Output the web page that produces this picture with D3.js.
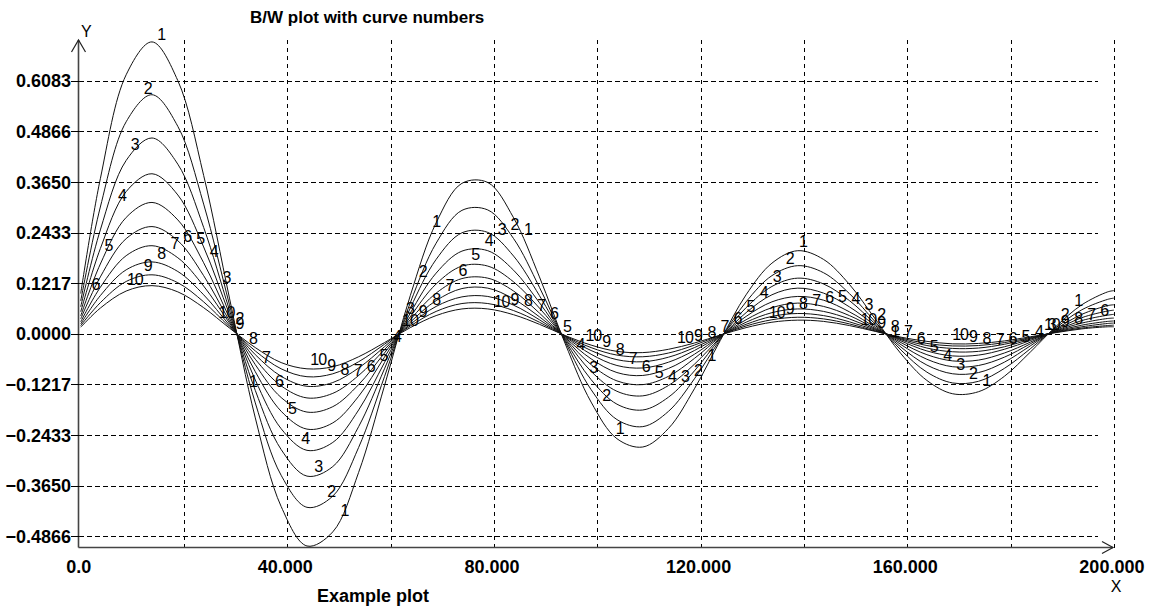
<!DOCTYPE html>
<html>
<head>
<meta charset="utf-8">
<script src="https://cdn.jsdelivr.net/npm/d3@7"></script>
<style>
    html, body { margin: 0; padding: 0; background: #fff; }
    text { font-family: "Liberation Sans", Arial, sans-serif; }
</style>
</head>
<body>
<div id="chart"></div>
<script>
// x positions shared by all curves
const xValues = [0, 3.8, 8.8, 13.8, 18.8, 23.8, 28.8, 33.8, 38.8, 43.8, 48.8, 53.8, 58.8, 63.8, 68.8,
    73.8, 78.8, 83.8, 88.8, 93.8, 98.8, 103.8, 108.8, 113.8, 118.8, 123.8, 128.8, 133.8, 138.8, 143.8,
    148.8, 153.8, 158.8, 163.8, 168.8, 173.8, 178.8, 183.8, 188.8, 193.8, 198.8, 200];

// y values of each numbered curve
const curve1 = [0.097, 0.373, 0.623, 0.702, 0.609, 0.381, 0.086, -0.202, -0.415, -0.510, -0.476, -0.333, -0.125, 0.092, 0.267, 0.362, 0.364, 0.279, 0.137, -0.024, -0.164, -0.252, -0.272, -0.227, -0.132, -0.016, 0.094, 0.170, 0.200, 0.179, 0.119, 0.036, -0.048, -0.112, -0.144, -0.139, -0.102, -0.044, 0.018, 0.070, 0.101, 0.104];
const curve2 = [0.079, 0.305, 0.510, 0.575, 0.499, 0.312, 0.070, -0.166, -0.340, -0.417, -0.390, -0.273, -0.103, 0.075, 0.218, 0.297, 0.298, 0.229, 0.112, -0.019, -0.134, -0.206, -0.223, -0.186, -0.108, -0.013, 0.077, 0.140, 0.164, 0.147, 0.097, 0.029, -0.039, -0.092, -0.118, -0.114, -0.083, -0.036, 0.015, 0.058, 0.083, 0.086];
const curve3 = [0.065, 0.250, 0.417, 0.471, 0.408, 0.256, 0.057, -0.136, -0.278, -0.342, -0.319, -0.223, -0.084, 0.062, 0.179, 0.243, 0.244, 0.187, 0.092, -0.016, -0.110, -0.169, -0.183, -0.152, -0.089, -0.010, 0.063, 0.114, 0.134, 0.120, 0.080, 0.024, -0.032, -0.075, -0.096, -0.093, -0.068, -0.029, 0.012, 0.047, 0.068, 0.070];
const curve4 = [0.053, 0.205, 0.342, 0.385, 0.334, 0.209, 0.047, -0.111, -0.228, -0.280, -0.261, -0.183, -0.069, 0.050, 0.146, 0.199, 0.200, 0.153, 0.075, -0.013, -0.090, -0.138, -0.149, -0.124, -0.073, -0.009, 0.051, 0.094, 0.110, 0.098, 0.065, 0.020, -0.026, -0.061, -0.079, -0.076, -0.056, -0.024, 0.010, 0.039, 0.055, 0.057];
const curve5 = [0.043, 0.168, 0.280, 0.316, 0.274, 0.171, 0.038, -0.091, -0.186, -0.229, -0.214, -0.150, -0.056, 0.041, 0.120, 0.163, 0.163, 0.125, 0.062, -0.011, -0.074, -0.113, -0.122, -0.102, -0.059, -0.007, 0.042, 0.077, 0.090, 0.081, 0.053, 0.016, -0.021, -0.050, -0.065, -0.063, -0.046, -0.020, 0.008, 0.032, 0.045, 0.047];
const curve6 = [0.036, 0.137, 0.229, 0.258, 0.224, 0.140, 0.031, -0.074, -0.153, -0.188, -0.175, -0.122, -0.046, 0.034, 0.098, 0.133, 0.134, 0.103, 0.050, -0.009, -0.060, -0.093, -0.100, -0.083, -0.049, -0.006, 0.034, 0.063, 0.074, 0.066, 0.044, 0.013, -0.017, -0.041, -0.053, -0.051, -0.037, -0.016, 0.007, 0.026, 0.037, 0.038];
const curve7 = [0.029, 0.112, 0.188, 0.212, 0.183, 0.115, 0.026, -0.061, -0.125, -0.154, -0.143, -0.100, -0.038, 0.028, 0.080, 0.109, 0.110, 0.084, 0.041, -0.007, -0.049, -0.076, -0.082, -0.068, -0.040, -0.005, 0.028, 0.051, 0.060, 0.054, 0.036, 0.011, -0.014, -0.034, -0.043, -0.042, -0.031, -0.013, 0.006, 0.021, 0.030, 0.031];
const curve8 = [0.024, 0.092, 0.154, 0.173, 0.150, 0.094, 0.021, -0.050, -0.102, -0.126, -0.117, -0.082, -0.031, 0.023, 0.066, 0.089, 0.090, 0.069, 0.034, -0.006, -0.040, -0.062, -0.067, -0.056, -0.033, -0.004, 0.023, 0.042, 0.049, 0.044, 0.029, 0.009, -0.012, -0.028, -0.035, -0.034, -0.025, -0.011, 0.005, 0.017, 0.025, 0.026];
const curve9 = [0.020, 0.075, 0.126, 0.142, 0.123, 0.077, 0.017, -0.041, -0.084, -0.103, -0.096, -0.067, -0.025, 0.019, 0.054, 0.073, 0.073, 0.056, 0.028, -0.005, -0.033, -0.051, -0.055, -0.046, -0.027, -0.003, 0.019, 0.034, 0.040, 0.036, 0.024, 0.007, -0.010, -0.023, -0.029, -0.028, -0.021, -0.009, 0.004, 0.014, 0.020, 0.021];
const curve10 = [0.016, 0.062, 0.103, 0.116, 0.101, 0.063, 0.014, -0.033, -0.069, -0.084, -0.079, -0.055, -0.021, 0.015, 0.044, 0.060, 0.060, 0.046, 0.023, -0.004, -0.027, -0.042, -0.045, -0.037, -0.022, -0.003, 0.015, 0.028, 0.033, 0.030, 0.020, 0.006, -0.008, -0.018, -0.024, -0.023, -0.017, -0.007, 0.003, 0.012, 0.017, 0.017];

const curveNames = ['1', '2', '3', '4', '5', '6', '7', '8', '9', '10'];

// x of the point each curve number is tied to first, then every labelStep along x
const labelStart = [14.8, 12.2, 9.7, 7.2, 4.6, 2.1, -0.4, 14.8, 12.2, 9.7];
const labelStep = 17.75,
    labelLastX = 199;

// axes
const xDomain = [0, 200];
const yDomain = [-0.5141, 0.7025];
const xTickValues = [0, 40, 80, 120, 160, 200];
const xTickLabels = ['0.0', '40.000', '80.000', '120.000', '160.000', '200.000'];
const xGridValues = [20, 40, 60, 80, 100, 120, 140, 160, 180, 200];
const yTickValues = [-0.4866, -0.3650, -0.2433, -0.1217, 0, 0.1217, 0.2433, 0.3650, 0.4866, 0.6083];

const titleText = 'B/W plot with curve numbers',
    footText = 'Example plot';

class D3CurvePlot {
    containerEl;
    svg;

    constructor(containerEl) {
        this.containerEl = containerEl;
        this.init();
    }

    init() {
        const width = 1151,
            height = 609,
            series = [curve1, curve2, curve3, curve4, curve5, curve6, curve7, curve8, curve9, curve10];

        this.svg = d3.select(this.containerEl)
                    .append('svg')
                    .attr('width', width)
                    .attr('height', height)
                    .style('display', 'block')
                    .style('background', '#fff');

        this.x = d3.scaleLinear().domain(xDomain).range([80.7, 1113.9]);
        this.y = d3.scaleLinear().domain(yDomain).range([547.7, 41.7]);

        this._drawGrid();
        this._drawAxes();
        this._drawCurves(series);
        this._drawTexts();
    }

    // Dashed grid lines
    _drawGrid() {
        const x = this.x, y = this.y,
            g = this.svg.append('g')
                    .attr('stroke', '#000')
                    .attr('stroke-width', 1)
                    .attr('shape-rendering', 'crispEdges');

        g.selectAll('.hgrid')
            .data(yTickValues)
            .enter()
            .append('line')
            .attr('x1', 79)
            .attr('x2', 1098)
            .attr('y1', d => Math.round(y(d)) + 0.5)
            .attr('y2', d => Math.round(y(d)) + 0.5)
            .attr('stroke-dasharray', '5,3');

        g.selectAll('.vgrid')
            .data(xGridValues)
            .enter()
            .append('line')
            .attr('x1', d => Math.round(x(d)) + 0.5)
            .attr('x2', d => Math.round(x(d)) + 0.5)
            .attr('y1', 40)
            .attr('y2', 552)
            .attr('stroke-dasharray', '4,4');
    }

    // Axis lines, arrows, ticks and tick labels
    _drawAxes() {
        const x = this.x, y = this.y,
            x0 = 78.5,
            yAxisY = 547.5,
            g = this.svg.append('g');

        g.append('line')
            .attr('x1', x0).attr('x2', x0)
            .attr('y1', 40).attr('y2', yAxisY)
            .attr('stroke', '#444').attr('stroke-width', 1.6);
        g.append('line')
            .attr('x1', x0).attr('x2', 1113)
            .attr('y1', yAxisY).attr('y2', yAxisY)
            .attr('stroke', '#444').attr('stroke-width', 1.6);

        // arrow heads
        g.append('path')
            .attr('d', `M${x0 - 7},52 L${x0},40 L${x0 + 7},52`)
            .attr('fill', 'none').attr('stroke', '#222').attr('stroke-width', 1.2);
        g.append('path')
            .attr('d', `M1102,${yAxisY - 6} L1113,${yAxisY} L1102,${yAxisY + 6}`)
            .attr('fill', 'none').attr('stroke', '#222').attr('stroke-width', 1.2);

        // y ticks
        g.selectAll('.ytick')
            .data(yTickValues)
            .enter()
            .append('line')
            .attr('x1', 71).attr('x2', x0)
            .attr('y1', d => Math.round(y(d)) + 0.5)
            .attr('y2', d => Math.round(y(d)) + 0.5)
            .attr('stroke', '#000')
            .attr('shape-rendering', 'crispEdges');

        g.selectAll('.ylabel')
            .data(yTickValues)
            .enter()
            .append('text')
            .attr('x', 71)
            .attr('y', d => y(d) + 6.5)
            .attr('text-anchor', 'end')
            .attr('font-size', 18)
            .attr('font-weight', 'bold')
            .text(d => d3.format('.4f')(d));

        g.selectAll('.xlabel')
            .data(xTickValues)
            .enter()
            .append('text')
            .attr('x', d => x(d) - 2)
            .attr('y', 573)
            .attr('text-anchor', 'middle')
            .attr('font-size', 18)
            .attr('font-weight', 'bold')
            .text((d, i) => xTickLabels[i]);
    }

    // Curves and their numbers
    _drawCurves(series) {
        const x = this.x, y = this.y,
            line = d3.line()
                    .x((d, i) => x(xValues[i]))
                    .y(d => y(d))
                    .curve(d3.curveCatmullRom),
            g = this.svg.append('g'),
            self = this;

        const paths = g.selectAll('.curve')
            .data(series)
            .enter()
            .append('path')
            .attr('class', 'curve')
            .attr('d', line)
            .attr('fill', 'none')
            .attr('stroke', '#111')
            .attr('stroke-width', 1);

        // each number sits just above and to the right of its point on the curve
        const labels = [];
        paths.each(function(d, k) {
            for (let lx = labelStart[k]; lx <= labelLastX; lx += labelStep) {
                if (lx < xDomain[0]) {
                    continue;
                }
                const px = x(lx);
                labels.push({ name: curveNames[k], px: px, py: self._yOnPath(this, px) });
            }
        });

        g.selectAll('.curve-label')
            .data(labels)
            .enter()
            .append('text')
            .attr('class', 'curve-label')
            .attr('x', d => d.px + 4)
            .attr('y', d => d.py - 4)
            .attr('text-anchor', 'middle')
            .attr('font-size', 16)
            .attr('letter-spacing', '-1px')
            .text(d => d.name);
    }

    /**
     * Find the screen y of a path at a given screen x
     */
    _yOnPath(node, px) {
        let lo = 0, hi = node.getTotalLength(), p = node.getPointAtLength(0);
        for (let i = 0; i < 40; i++) {
            const mid = (lo + hi) / 2;
            p = node.getPointAtLength(mid);
            if (p.x < px) {
                lo = mid;
            } else {
                hi = mid;
            }
        }
        return p.y;
    }

    // Title, footnote and axis names
    _drawTexts() {
        this.svg.append('text')
            .attr('x', 250).attr('y', 23)
            .attr('font-size', 17).attr('font-weight', 'bold')
            .text(titleText);
        this.svg.append('text')
            .attr('x', 317).attr('y', 602)
            .attr('font-size', 18).attr('font-weight', 'bold')
            .text(footText);
        this.svg.append('text')
            .attr('x', 81).attr('y', 37)
            .attr('font-size', 16)
            .text('Y');
        this.svg.append('text')
            .attr('x', 1116).attr('y', 592)
            .attr('text-anchor', 'middle')
            .attr('font-size', 16)
            .text('X');
    }
}

new D3CurvePlot(document.getElementById('chart'));
</script>
</body>
</html>
